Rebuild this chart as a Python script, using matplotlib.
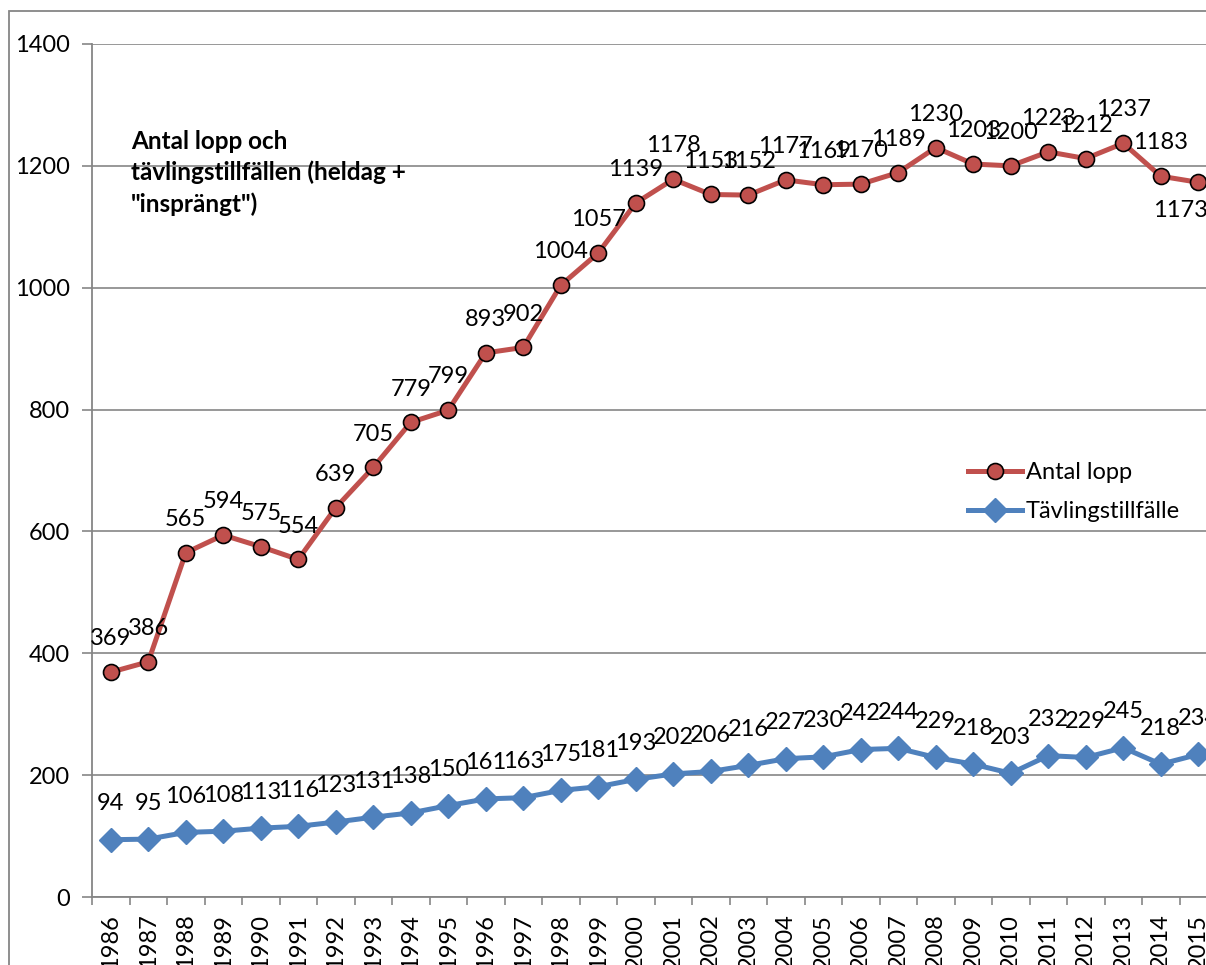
import matplotlib.pyplot as plt
from matplotlib.patches import Rectangle

years = [str(y) for y in range(1986, 2016)]
antal_lopp = [369, 386, 565, 594, 575, 554, 639, 705, 779, 799, 893, 902, 1004, 1057, 1139,
              1178, 1153, 1152, 1177, 1169, 1170, 1189, 1230, 1203, 1200, 1223, 1212, 1237, 1183, 1173]
tavlingstillfalle = [94, 95, 106, 108, 113, 116, 123, 131, 138, 150, 161, 163, 175, 181, 193,
                     202, 206, 216, 227, 230, 242, 244, 229, 218, 203, 232, 229, 245, 218, 234]

plt.rcParams['font.family'] = ['Lato', 'DejaVu Sans']
fs = 17
red = "#C0504D"
blue = "#4F81BD"
grid = "#868686"

W, H = 1206, 965
fig = plt.figure(figsize=(W / 100, H / 100), dpi=100)
ax = fig.add_axes([92 / W, (H - 897) / H, 1125 / W, (897 - 44) / H])

# outer chart frame (cut off at right and bottom like the screenshot)
fig.patches.append(Rectangle((9 / W, -0.1), 1.2, (H - 11) / H + 0.1, transform=fig.transFigure,
                             fill=False, edgecolor=grid, linewidth=1.3))

x = list(range(len(years)))
ax.plot(x, antal_lopp, color=red, lw=3.6, marker='o', ms=11.5, mfc=red, mec='black', mew=1.2,
        label="Antal lopp", zorder=3)
ax.plot(x, tavlingstillfalle, color=blue, lw=3.6, marker='D', ms=12, mfc=blue, mec=blue,
        label="Tävlingstillfälle", zorder=3)

for i, v in enumerate(antal_lopp):
    if i == len(antal_lopp) - 1:
        ax.annotate(str(v), (i, v), xytext=(-13, -20), textcoords='offset points',
                    ha='center', va='center', fontsize=fs, annotation_clip=False)
    else:
        ax.annotate(str(v), (i, v), xytext=(0, 24), textcoords='offset points',
                    ha='center', va='center', fontsize=fs, annotation_clip=False)
for i, v in enumerate(tavlingstillfalle):
    ax.annotate(str(v), (i, v), xytext=(0, 26), textcoords='offset points',
                ha='center', va='center', fontsize=fs, annotation_clip=False)

ax.set_xlim(-0.5, len(years) - 0.5)
ax.set_ylim(0, 1400)
ax.set_yticks(range(0, 1401, 200))
ax.tick_params(axis='y', labelsize=fs, length=7, color=grid, width=1.2, pad=9)
ax.set_xticks([i - 0.5 for i in range(len(years) + 1)])
ax.set_xticklabels([])
ax.set_xticks(x, minor=True)
ax.set_xticklabels(years, minor=True, rotation=90, fontsize=fs, va='top')
ax.tick_params(axis='x', which='major', length=6, color=grid, width=1.2)
ax.tick_params(axis='x', which='minor', length=0, pad=12)
ax.grid(axis='y', color=grid, lw=1.2)
ax.set_axisbelow(True)
for s in ['top', 'right']:
    ax.spines[s].set_visible(False)
for s in ['left', 'bottom']:
    ax.spines[s].set_color(grid)
    ax.spines[s].set_linewidth(1.3)

fig.text(131 / W, 1 - 130 / H, 'Antal lopp och\ntävlingstillfällen (heldag +\n"insprängt")',
         fontsize=17.5, fontweight='bold', va='top', ha='left', linespacing=1.4)

ax.legend(loc='center left', bbox_to_anchor=(968 / W, 1 - 492 / H), bbox_transform=fig.transFigure,
          frameon=False, fontsize=fs, borderpad=0, borderaxespad=0, handlelength=2.3,
          handletextpad=0.15, labelspacing=0.75)

fig.savefig("out.png", dpi=100)
